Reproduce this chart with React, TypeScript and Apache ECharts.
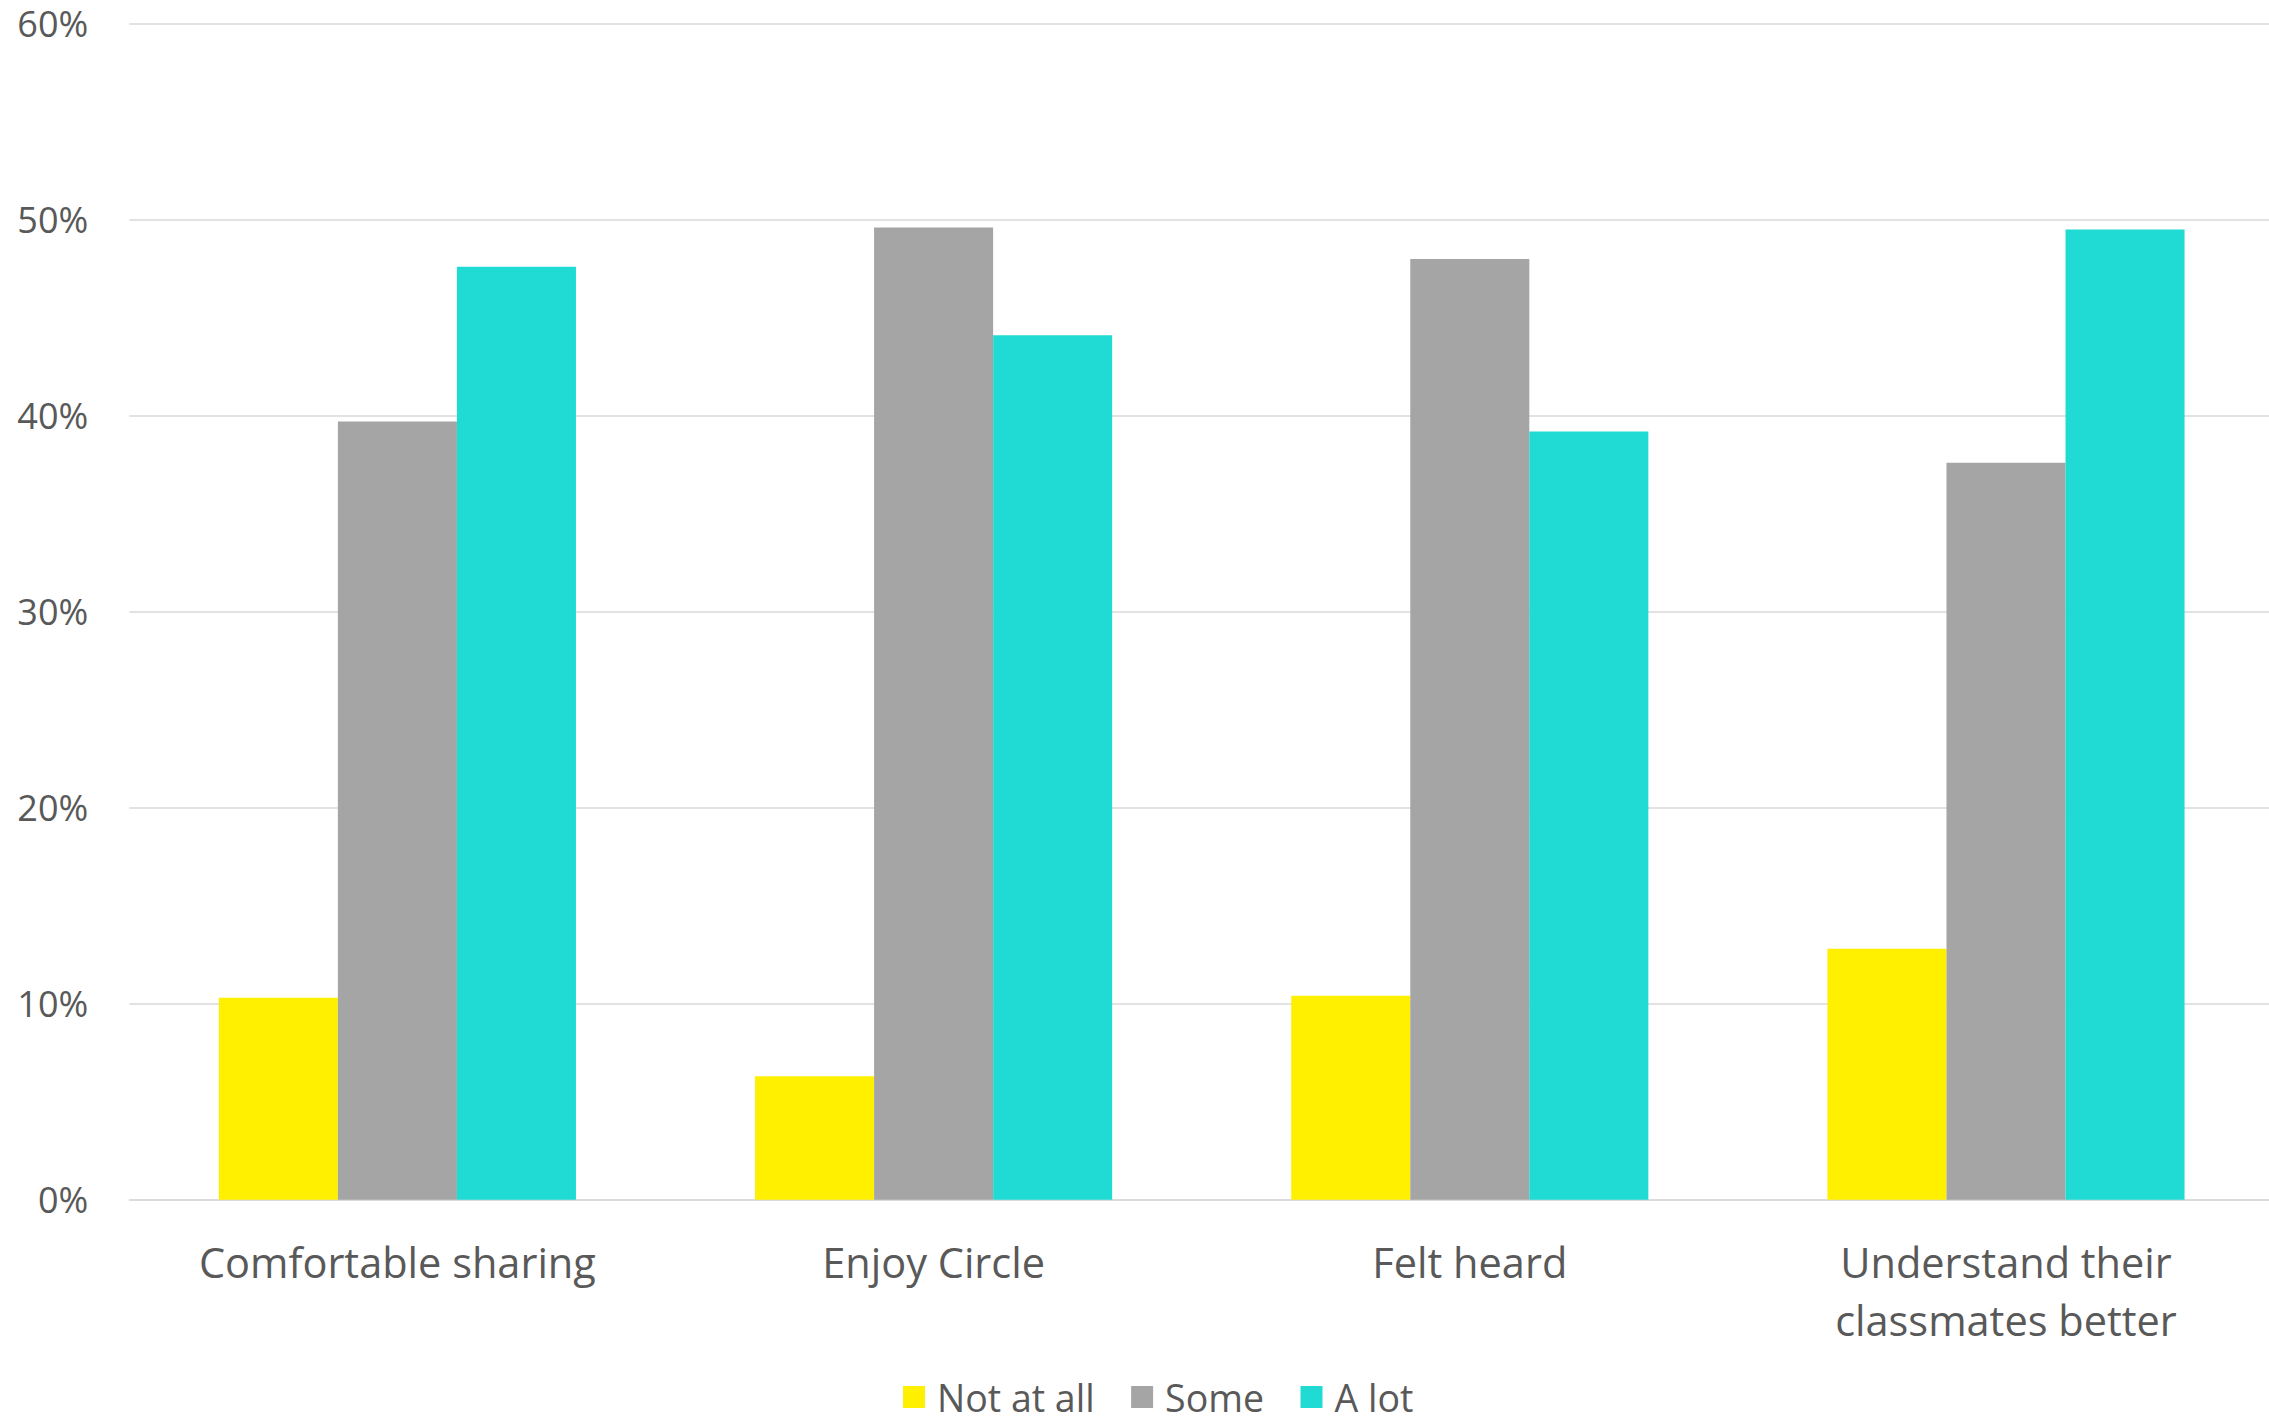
import React, { useEffect, useRef } from "react";
import * as echarts from "echarts";

const categories = [
  "Comfortable sharing",
  "Enjoy Circle",
  "Felt heard",
  "Understand their\nclassmates better",
];
const seriesNames = ["Not at all", "Some", "A lot"];
const notAtAll = [10.3, 6.3, 10.4, 12.8];
const some = [39.7, 49.6, 48.0, 37.6];
const aLot = [47.6, 44.1, 39.2, 49.5];
const yTicks = [0, 10, 20, 30, 40, 50, 60];

const colors = ["#FFF000", "#A5A5A5", "#1FDBD4"];
const textColor = "#595959";
const gridColor = "#D9D9D9";
const fontFamily = "'Open Sans', 'Noto Sans', sans-serif";

export default function App() {
  const ref = useRef<HTMLDivElement>(null);

  useEffect(() => {
    document.body.style.margin = "0";
    if (!ref.current) return;
    const chart = echarts.init(ref.current, undefined, { renderer: "svg" });
    const values = [notAtAll, some, aLot];
    chart.setOption({
      animation: false,
      backgroundColor: "#FFFFFF",
      grid: {
        left: 129.3,
        width: 2144.8,
        top: 23.7,
        height: 1176,
        containLabel: false,
        outerBoundsMode: "none",
      },
      legend: {
        data: seriesNames,
        left: 903,
        top: 1378,
        padding: 0,
        itemWidth: 22,
        itemHeight: 22,
        itemGap: 36.5,
        icon: "rect",
        textStyle: {
          color: textColor,
          fontSize: 37.5,
          fontFamily,
          lineHeight: 22,
          padding: [0, 0, 0, 7],
        },
      },
      xAxis: {
        type: "category",
        data: categories,
        axisTick: { show: false },
        axisLine: { show: true, lineStyle: { color: gridColor, width: 1.5 } },
        axisLabel: {
          color: textColor,
          fontSize: 41.5,
          fontFamily,
          margin: 33,
          lineHeight: 58,
          interval: 0,
        },
      },
      yAxis: {
        type: "value",
        min: yTicks[0],
        max: yTicks[yTicks.length - 1],
        interval: 10,
        axisLine: { show: false },
        axisTick: { show: false },
        splitLine: { show: true, lineStyle: { color: gridColor, width: 1.5 } },
        axisLabel: {
          color: textColor,
          fontSize: 36,
          fontFamily,
          margin: 41,
          formatter: (v: number) => `${v}%`,
        },
      },
      series: seriesNames.map((name, i) => ({
        name,
        type: "bar",
        data: values[i],
        barGap: "0%",
        barCategoryGap: "33.4%",
        itemStyle: { color: colors[i] },
      })),
    });
    return () => chart.dispose();
  }, []);

  return <div ref={ref} style={{ width: 2269, height: 1425 }} />;
}
